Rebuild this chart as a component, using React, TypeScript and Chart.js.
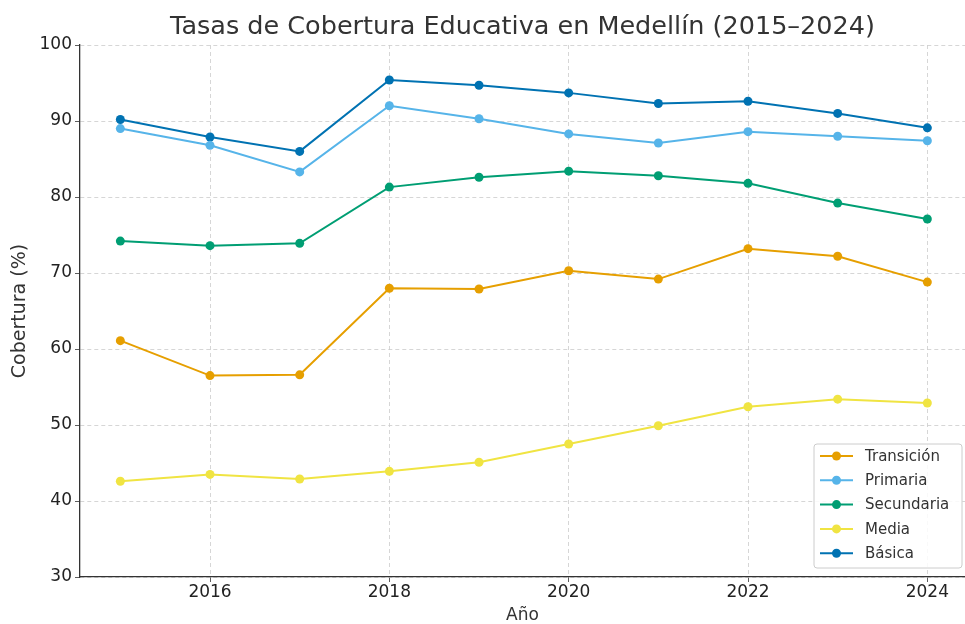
import React, { useEffect, useRef } from "react";
import { Chart, registerables } from "chart.js";

Chart.register(...registerables);

const years = [2015, 2016, 2017, 2018, 2019, 2020, 2021, 2022, 2023, 2024];
const xTickValues = [2016, 2018, 2020, 2022, 2024];
const transicion = [61.1, 56.5, 56.6, 68.0, 67.9, 70.3, 69.2, 73.2, 72.2, 68.8];
const primaria = [89.0, 86.8, 83.3, 92.0, 90.3, 88.3, 87.1, 88.6, 88.0, 87.4];
const secundaria = [74.2, 73.6, 73.9, 81.3, 82.6, 83.4, 82.8, 81.8, 79.2, 77.1];
const media = [42.6, 43.5, 42.9, 43.9, 45.1, 47.5, 49.9, 52.4, 53.4, 52.9];
const basica = [90.2, 87.9, 86.0, 95.4, 94.7, 93.7, 92.3, 92.6, 91.0, 89.1];

const seriesNames = ["Transición", "Primaria", "Secundaria", "Media", "Básica"];
const seriesValues = [transicion, primaria, secundaria, media, basica];
const seriesColors = ["#E69F00", "#56B4E9", "#009E73", "#F0E442", "#0072B2"];

const chartTitle = "Tasas de Cobertura Educativa en Medellín (2015–2024)";

const FONT = "'DejaVu Sans', sans-serif";

const titleAndLegendPlugin = {
  id: "titleAndLegend",
  afterDraw(chart: any) {
    const ctx = chart.ctx;
    const area = chart.chartArea;
    ctx.save();
    // title centered over plot area
    ctx.font = `25.5px ${FONT}`;
    ctx.fillStyle = "#333333";
    ctx.textAlign = "center";
    ctx.textBaseline = "middle";
    ctx.fillText(chartTitle, (area.left + area.right) / 2, 27);

    // legend
    const ds = chart.data.datasets;
    const rowH = 24.3;
    const boxW = 148;
    const boxH = 124;
    const x0 = area.right - boxW - 3;
    const y0 = area.bottom - boxH - 9;
    ctx.beginPath();
    const r = 3;
    ctx.moveTo(x0 + r, y0);
    ctx.lineTo(x0 + boxW - r, y0);
    ctx.quadraticCurveTo(x0 + boxW, y0, x0 + boxW, y0 + r);
    ctx.lineTo(x0 + boxW, y0 + boxH - r);
    ctx.quadraticCurveTo(x0 + boxW, y0 + boxH, x0 + boxW - r, y0 + boxH);
    ctx.lineTo(x0 + r, y0 + boxH);
    ctx.quadraticCurveTo(x0, y0 + boxH, x0, y0 + boxH - r);
    ctx.lineTo(x0, y0 + r);
    ctx.quadraticCurveTo(x0, y0, x0 + r, y0);
    ctx.closePath();
    ctx.fillStyle = "rgba(255,255,255,0.85)";
    ctx.fill();
    ctx.strokeStyle = "#cccccc";
    ctx.lineWidth = 1;
    ctx.stroke();
    ctx.font = `15px ${FONT}`;
    ctx.textAlign = "left";
    ctx.textBaseline = "middle";
    ds.forEach((d: any, i: number) => {
      const cy = y0 + 12 + i * rowH;
      ctx.strokeStyle = d.borderColor;
      ctx.lineWidth = 2;
      ctx.beginPath();
      ctx.moveTo(x0 + 6, cy);
      ctx.lineTo(x0 + 39, cy);
      ctx.stroke();
      ctx.fillStyle = d.borderColor;
      ctx.beginPath();
      ctx.arc(x0 + 22.5, cy, 4.5, 0, Math.PI * 2);
      ctx.fill();
      ctx.fillStyle = "#333333";
      ctx.fillText(d.label, x0 + 51, cy + 1);
    });
    ctx.restore();
  },
};

export default function App() {
  const ref = useRef<HTMLCanvasElement | null>(null);
  useEffect(() => {
    document.body.style.margin = "0";
    if (!ref.current) return;
    const chart = new Chart(ref.current, {
      type: "line",
      data: {
        datasets: seriesNames.map((name, i) => ({
          label: name,
          data: years.map((x, j) => ({ x, y: seriesValues[i][j] })),
          borderColor: seriesColors[i],
          backgroundColor: seriesColors[i],
          borderWidth: 2,
          pointRadius: 4.5,
          pointBorderWidth: 0,
          tension: 0,
        })),
      },
      options: {
        animation: false,
        responsive: false,
        layout: { autoPadding: false, padding: { left: 0, right: 0, top: 45, bottom: 0 } },
        plugins: {
          legend: { display: false },
          tooltip: { enabled: false },
          title: { display: false },
        },
        scales: {
          x: {
            type: "linear",
            min: 2014.55,
            max: 2024.42,
            afterBuildTicks: (scale: any) => {
              scale.ticks = xTickValues.map((v) => ({ value: v }));
            },
            afterFit: (scale: any) => {
              scale.height = 47;
            },
            ticks: {
              callback: (v: any) => String(v),
              color: "#222222",
              font: { family: FONT, size: 17 },
              padding: 0,
              maxRotation: 0,
              autoSkip: false,
            },
            grid: {
              color: "#cccccc",
              tickBorderDash: [],
              tickColor: "#333333",
              tickLength: 5,
              lineWidth: 0.8,
            } as any,
            border: { display: true, color: "#333333", width: 1.3, dash: [4, 3] },
            title: {
              display: true,
              text: "Año",
              color: "#333333",
              font: { family: FONT, size: 17, lineHeight: 1.0 },
              padding: { top: 0, bottom: 0 },
            },
          },
          y: {
            min: 30,
            max: 100,
            afterFit: (scale: any) => {
              scale.width = 80;
            },
            ticks: {
              stepSize: 10,
              color: "#222222",
              font: { family: FONT, size: 17 },
              padding: 3,
            },
            grid: {
              color: "#cccccc",
              tickBorderDash: [],
              tickColor: "#333333",
              tickLength: 5,
              lineWidth: 0.8,
            } as any,
            border: { display: true, color: "#333333", width: 1.3, dash: [4, 3] },
            title: {
              display: true,
              text: "Cobertura (%)",
              color: "#333333",
              font: { family: FONT, size: 19, lineHeight: 1.2 },
              padding: { top: 9, bottom: 0 },
            },
          },
        },
      },
      plugins: [titleAndLegendPlugin],
    } as any);
    return () => chart.destroy();
  }, []);
  return <canvas ref={ref} width={965} height={624} style={{ display: "block" }} />;
}
